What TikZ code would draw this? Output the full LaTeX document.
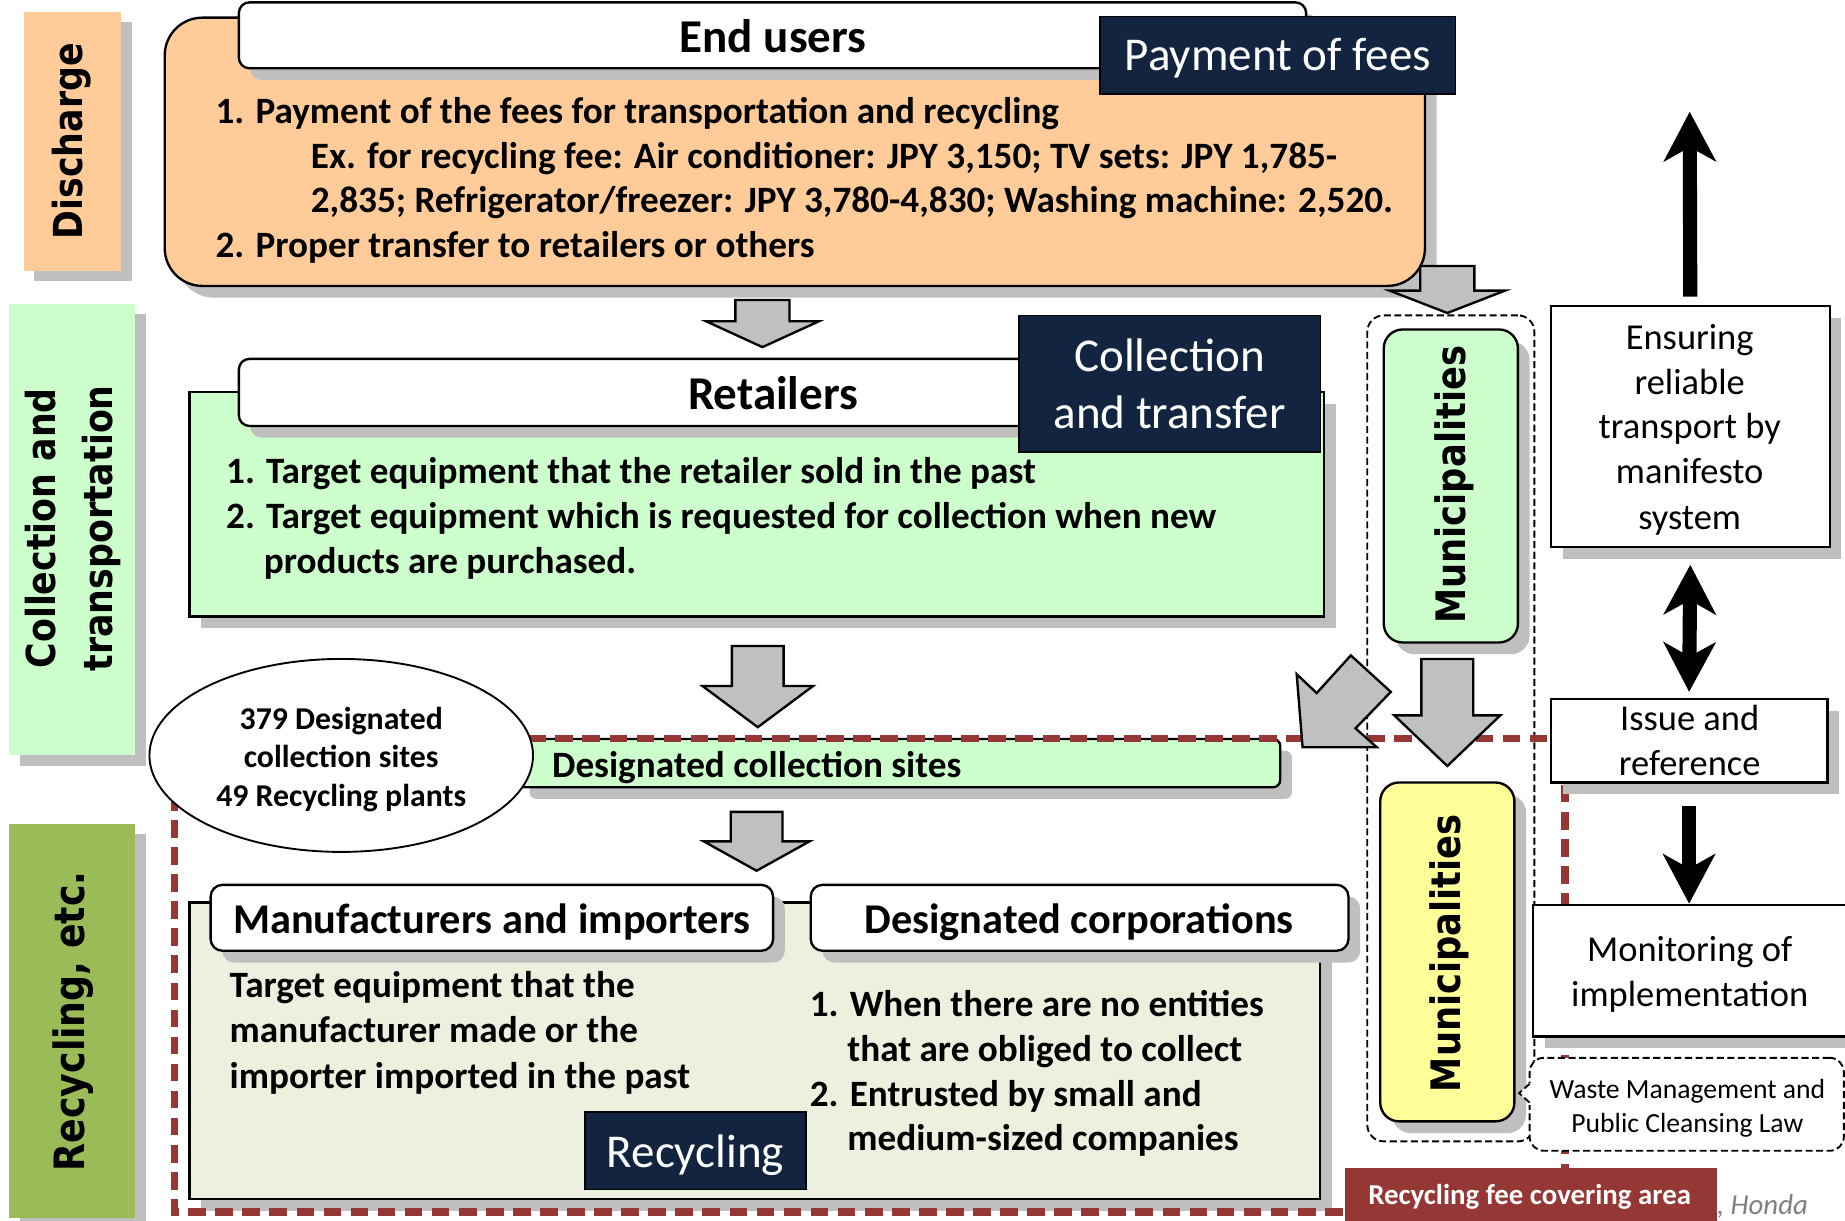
\documentclass[tikz,border=0pt]{standalone}
\usepackage{fontspec}
\setmainfont{Carlito}
\newfontfamily\lblfont[FakeStretch=0.87]{DejaVu Sans}
\usetikzlibrary{arrows.meta,calc,shapes.geometric}
\definecolor{peach}{HTML}{FFCC99}
\definecolor{lgreen}{HTML}{CCFFCC}
\definecolor{olive}{HTML}{9BBB59}
\definecolor{lolive}{HTML}{EBF1DE}
\definecolor{lyellow}{HTML}{FFFF99}
\definecolor{navy}{HTML}{12243F}
\definecolor{darkred}{HTML}{953735}
\definecolor{shadowgray}{HTML}{BFBFBF}
\definecolor{arrowgray}{HTML}{C0C0C0}
\definecolor{srcgray}{HTML}{808080}
\newcommand\fsz[2]{\fontsize{#1pt}{#2pt}\selectfont}
\newcommand\downblock[6]{%
  \draw[blockarrow] (#1-#5,#2) -- (#1+#5,#2) -- (#1+#5,#3) -- (#1+#6,#3) -- (#1,#4) -- (#1-#6,#3) -- (#1-#5,#3) -- cycle;}
\tikzset{
  box/.style={draw=black, line width=2pt, inner sep=0pt, outer sep=0pt, anchor=north west},
  shadowed/.style={preaction={fill=shadowgray, transform canvas={xshift=#1,yshift=-#1}}},
  shadowed/.default=10pt,
  sidelbl/.style={inner sep=0pt, outer sep=0pt, anchor=north west},
  lbltext/.style={rotate=90, align=center, inner sep=0pt, font=\lblfont\bfseries\fsz{34}{48}},
  munitext/.style={rotate=90, inner sep=0pt, font=\lblfont\bfseries\fsz{34.5}{40}},
  bodyb/.style={inner sep=0pt, anchor=base west, font=\bfseries\fsz{31.6}{38}},
  headb/.style={inner sep=0pt, anchor=base, font=\bfseries\fsz{40}{48}},
  darkbox/.style={fill=navy, draw=black, line width=1.2pt, inner sep=0pt, outer sep=0pt, anchor=north west},
  darktext/.style={inner sep=0pt, anchor=base, text=white, font=\fsz{40}{48}},
  plaintext/.style={inner sep=0pt, anchor=base, font=\fsz{31}{38}},
  blockarrow/.style={fill=arrowgray, draw=black, line width=2pt, line join=miter},
  blackarrow/.style={draw=black, line width=12pt, -{Stealth[length=42pt,width=44pt,inset=12pt]}},
  reddash/.style={draw=darkred, line width=6pt, dash pattern=on 15pt off 8pt},
  blackdash/.style={draw=black, line width=1.6pt, dash pattern=on 6pt off 3pt},
}
\begin{document}
\begin{tikzpicture}[x=1pt,y=-1pt]
\useasboundingbox (0,0) rectangle (1568,1037);
\fill[white] (0,0) rectangle (1568,1037);

% ---- side labels
\node[sidelbl, fill=peach, shadowed=9pt, minimum width=83pt, minimum height=220pt] (sdis) at (20,10) {};
\node[lbltext] (tdis) at (61,120) {Discharge};
\node[sidelbl, fill=lgreen, shadowed=9pt, minimum width=107pt, minimum height=384pt] (scol) at (8,258) {};
\node[lbltext] (tcol) at (62,449) {Collection and\\transportation};
\node[sidelbl, fill=olive, shadowed=9pt, minimum width=107pt, minimum height=335pt] (srec) at (8,700) {};
\node[lbltext, font=\lblfont\bfseries\fsz{35.5}{48}] (trec) at (62,868) {Recycling, etc.};

% ---- end users
\node[box, fill=peach, shadowed, rounded corners=32pt, minimum width=1071pt, minimum height=228pt] (endbody) at (140,15) {};
\node[box, fill=white, shadowed, rounded corners=9pt, minimum width=907pt, minimum height=56pt] (endhead) at (203,2) {};
\node[headb] (tend) at (657,45) {End users};
\node[darkbox, minimum width=302pt, minimum height=66pt] (pay) at (935,14) {};
\node[darktext] (tpay) at (1086,60) {Payment of fees};
\node[bodyb] (o1) at (183,105) {1. Payment of the fees for transportation and recycling};
\node[bodyb] (o2) at (264,143) {Ex. for recycling fee: Air conditioner: JPY 3,150; TV sets: JPY 1,785-};
\node[bodyb] (o3) at (264,181) {2,835; Refrigerator/freezer: JPY 3,780-4,830; Washing machine: 2,520.};
\node[bodyb] (o4) at (183,219) {2. Proper transfer to retailers or others};

\downblock{648}{255}{273}{295}{23}{48}
\downblock{1230}{226}{247}{266}{23}{49}

% ---- retailers
\node[box, fill=lgreen, shadowed, minimum width=964pt, minimum height=191pt] (retbody) at (161,333) {};
\node[box, fill=white, shadowed, rounded corners=9pt, minimum width=757pt, minimum height=57pt] (rethead) at (203,305) {};
\node[headb] (tret) at (657,348) {Retailers};
\node[darkbox, minimum width=256pt, minimum height=116pt] (coll) at (866,268) {};
\node[darktext] (tcoll1) at (994,316) {Collection};
\node[darktext] (tcoll2) at (994,364) {and transfer};
\node[bodyb] (g1) at (192,411) {1. Target equipment that the retailer sold in the past};
\node[bodyb] (g2) at (192,449) {2. Target equipment which is requested for collection when new};
\node[bodyb] (g3) at (224,487) {products are purchased.};

% ---- municipalities container and green box
\node[box, blackdash, rounded corners=14pt, minimum width=142pt, minimum height=702pt] (mcont) at (1162,268) {};
\node[box, fill=lgreen, shadowed, rounded corners=16pt, minimum width=114pt, minimum height=266pt] (mgreen) at (1176,280) {};
\node[munitext] (tmg) at (1236,412) {Municipalities};

\downblock{644}{549}{583}{618}{22}{47}

% ---- designated collection sites bar
\node[box, fill=lgreen, shadowed, rounded corners=6pt, minimum width=648pt, minimum height=41pt] (dbar) at (440,628) {};
\node[bodyb] (tdbar) at (469,661) {Designated collection sites};

% ---- recycling area
\node[box, fill=lolive, shadowed, minimum width=961pt, minimum height=252pt] (recbody) at (161,767) {};
\node[box, fill=white, shadowed, rounded corners=10pt, minimum width=478pt, minimum height=56pt] (manh) at (179,752) {};
\node[inner sep=0pt, anchor=base, font=\bfseries\fsz{36}{44}] (tman) at (418,793) {Manufacturers and importers};
\node[box, fill=white, shadowed, rounded corners=10pt, minimum width=457pt, minimum height=56pt] (dch) at (689,752) {};
\node[inner sep=0pt, anchor=base, font=\bfseries\fsz{36}{44}] (tdc) at (917,793) {Designated corporations};
\node[bodyb] (r1) at (195,848) {Target equipment that the};
\node[bodyb] (r2) at (195,886) {manufacturer made or the};
\node[bodyb] (r3) at (195,925) {importer imported in the past};
\node[bodyb] (d1) at (688,864) {1. When there are no entities};
\node[bodyb] (d2) at (720,902) {that are obliged to collect};
\node[bodyb] (d3) at (688,940) {2. Entrusted by small and};
\node[bodyb] (d4) at (720,978) {medium-sized companies};
\node[darkbox, minimum width=188pt, minimum height=66pt] (recyc) at (497,945) {};
\node[darktext] (trecyc) at (591,992) {Recycling};

\downblock{643}{690}{715}{740}{22}{45}

% ---- red dashed covering area
\draw[reddash] (148,628) rectangle (1330,1030);

% ---- ellipse
\node[ellipse, draw=black, line width=1.6pt, fill=white, minimum width=326pt, minimum height=164pt, inner sep=0pt] (ell) at (290,642) {};
\node[inner sep=0pt, anchor=base, font=\bfseries\fsz{27}{32}] (e1) at (290,620) {379 Designated};
\node[inner sep=0pt, anchor=base, font=\bfseries\fsz{27}{32}] (e2) at (290,652) {collection sites};
\node[inner sep=0pt, anchor=base, font=\bfseries\fsz{27}{32}] (e3) at (290,685) {49 Recycling plants};

% ---- arrows over dashes
\downblock{1230}{560}{608}{651}{22}{45}
\draw[blockarrow] (1107,635) -- (1102,573) -- (1119,589) -- (1148,557) -- (1182,588) -- (1152,619) -- (1170,635) -- cycle;

% ---- yellow municipalities
\node[box, fill=lyellow, shadowed, rounded corners=16pt, minimum width=114pt, minimum height=288pt] (myel) at (1173,665) {};
\node[munitext] (tmy) at (1232,810) {Municipalities};

% ---- right column
\node[box, fill=white, shadowed, minimum width=237pt, minimum height=205pt] (ens) at (1318,260) {};
\node[plaintext] (en1) at (1436,297) {Ensuring};
\node[plaintext] (en2) at (1436,335) {reliable};
\node[plaintext] (en3) at (1436,373) {transport by};
\node[plaintext] (en4) at (1436,411) {manifesto};
\node[plaintext] (en5) at (1436,450) {system};
\node[box, fill=white, shadowed, minimum width=235pt, minimum height=71pt] (iss) at (1318,594) {};
\node[plaintext] (is1) at (1436,621) {Issue and};
\node[plaintext] (is2) at (1436,659) {reference};
\node[box, fill=white, shadowed, minimum width=290pt, minimum height=112pt] (mon) at (1303,769) {};
\node[plaintext] (mo1) at (1436,817) {Monitoring of};
\node[plaintext] (mo2) at (1436,855) {implementation};

\coordinate (uptip) at (1436,95);
\draw[blackarrow] ($(ens.north)+(0,-8)$) -- (uptip);
\draw[blackarrow, {Stealth[length=42pt,width=44pt,inset=12pt]}-{Stealth[length=42pt,width=44pt,inset=12pt]}] ($(ens.south)+(0,15)$) -- ($(iss.north)+(0,-6)$);
\draw[blackarrow] ($(iss.south)+(0,20)$) -- ($(iss.south |- mon.north)+(0,-1)$);

% ---- waste management callout
\node[box, blackdash, fill=white, rounded corners=12pt, minimum width=267pt, minimum height=79pt] (waste) at (1300,899) {};
\fill[white] (1298,920) rectangle (1303,939);
\draw[blackdash, fill=white] (1300,921) -- (1291,929) -- (1301,938);
\node[inner sep=0pt, anchor=base, font=\fsz{23.5}{29}] (w1) at (1434,933.5) {Waste Management and};
\node[inner sep=0pt, anchor=base, font=\fsz{23.5}{29}] (w2) at (1434,962.5) {Public Cleansing Law};

% ---- source and covering label
\node[inner sep=0pt, anchor=base west, text=srcgray, font=\itshape\fsz{24.5}{30}] (src) at (1459,1032) {, Honda};
\node[sidelbl, fill=darkred, minimum width=316pt, minimum height=52pt] (redlbl) at (1143,993) {};
\node[inner sep=0pt, anchor=base, text=white, font=\bfseries\fsz{24.5}{30}] (tred) at (1300,1024) {Recycling fee covering area};
\end{tikzpicture}
\end{document}
